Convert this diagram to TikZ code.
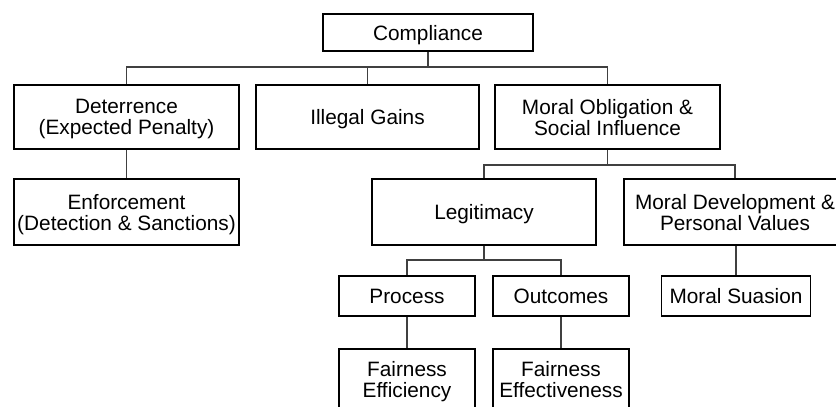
\documentclass[tikz,border=0pt]{standalone}
\usepackage{fontspec}
\setmainfont{Liberation Sans}
\begin{document}
\begin{tikzpicture}[x=1pt,y=-1pt,
  box/.style={draw=black, line width=1.8pt, align=center, inner sep=0pt,
    text depth=0pt, font=\fontsize{20.8}{21}\selectfont},
  link/.style={draw=black!75, line width=1.1pt}]
\useasboundingbox (0,0) rectangle (836,407);
\clip (0,0) rectangle (836,407);
\node[box, minimum width=210, minimum height=37] (comp) at (428,32.5) {Compliance};
\node[box, minimum width=225, minimum height=64] (det) at (126.5,117) {Deterrence\\(Expected Penalty)};
\node[box, minimum width=223, minimum height=64] (ill) at (367.5,117) {Illegal Gains};
\node[box, minimum width=225, minimum height=64] (mor) at (607.5,117) {Moral Obligation \&\\Social Influence};
\node[box, minimum width=225, minimum height=66] (enf) at (126.5,212) {Enforcement\\(Detection \& Sanctions)};
\node[box, minimum width=224, minimum height=66] (leg) at (484,212) {Legitimacy};
\node[box, minimum width=222, minimum height=66] (dev) at (735,212) {Moral Development \&\\Personal Values};
\node[box, minimum width=136, minimum height=40] (proc) at (407,296) {Process};
\node[box, minimum width=136, minimum height=40] (out) at (561,296) {Outcomes};
\node[box, minimum width=149, minimum height=40] (sua) at (736,296) {Moral Suasion};
\node[box, minimum width=136, minimum height=60] (fe1) at (407,379) {Fairness\\Efficiency};
\node[box, minimum width=136, minimum height=60] (fe2) at (561,379) {Fairness\\Effectiveness};
% level 1
\draw[link] (comp.south) -- (comp.south |- 0,67);
\draw[link] (det.north) -- (det.north |- 0,67) -| (mor.north);
\draw[link] (ill.north) -- (ill.north |- 0,67);
\draw[link] (det.south) -- (enf.north);
% moral obligation
\draw[link] (mor.south) -- (mor.south |- 0,165);
\draw[link] (leg.north) -- (leg.north |- 0,165) -| (dev.north);
\draw[link] (dev.south -| sua.north) -- (sua.north);
% legitimacy
\draw[link] (leg.south) -- (leg.south |- 0,260);
\draw[link] (proc.north) -- (proc.north |- 0,260) -| (out.north);
\draw[link] (proc.south) -- (fe1.north);
\draw[link] (out.south) -- (fe2.north);
\end{tikzpicture}
\end{document}
